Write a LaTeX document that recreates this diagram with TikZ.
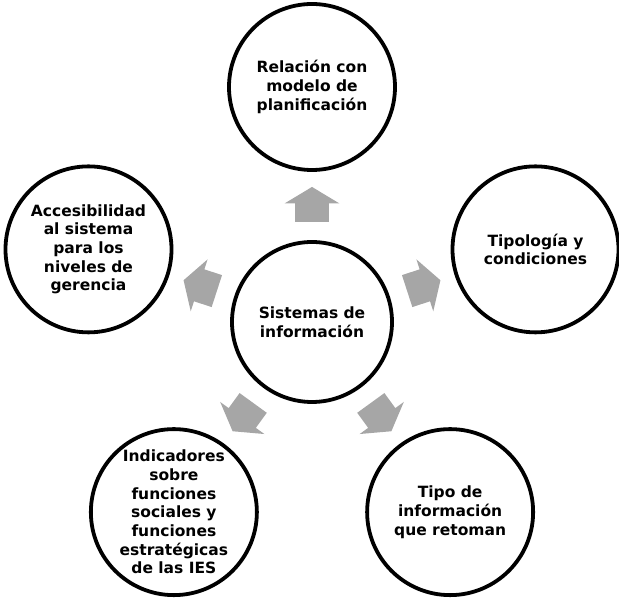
\documentclass[tikz,border=0pt]{standalone}
\usepackage{fontspec}
\setmainfont{DejaVu Sans}
\usepackage{tikz}
\usetikzlibrary{calc,shapes.arrows}
\definecolor{gris}{HTML}{A6A6A6}

\begin{document}
\begin{tikzpicture}[x=1pt,y=1pt,
bub/.style={circle, draw=black, line width=3.8pt, fill=white, inner sep=0pt, align=center, font=\bfseries\fontsize{15.5}{18.7}\selectfont},
hub/.style={bub, minimum size=160pt},
sat/.style={bub, minimum size=166pt},
flecha/.style={single arrow, fill=gris, draw=none, inner xsep=0pt, inner ysep=16.5pt, minimum height=35pt, single arrow head extend=10.5pt, single arrow tip angle=118},
semithick]

\useasboundingbox (0,0) rectangle (619,602);

\node[hub] (sis) at (312,280) {Sistemas de\\información};

% satellites
\node[sat] (rel) at ($(sis)+(90:235)$) {Relación con\\modelo de\\planificación};
\node[sat] (tip) at ($(sis)+(18:235)$) {Tipología y\\condiciones};
\node[sat] (inf) at ($(sis)+(-54:235)$) {Tipo de\\información\\que retoman};
\node[sat] (ind) at ($(sis)+(-126:235)$) {Indicadores\\sobre\\funciones\\sociales y\\funciones\\estratégicas\\de las IES};
\node[sat] (acc) at ($(sis)+(162:235)$) {Accesibilidad\\al sistema\\para los\\niveles de\\gerencia};

% arrows
\foreach \ang/\nom in {90/a1, 18/a2, -54/a3, -126/a4, 162/a5}
  \node[flecha, rotate=\ang] (\nom) at ($(sis)+(\ang:112.5)$) {};
\end{tikzpicture}
\end{document}
